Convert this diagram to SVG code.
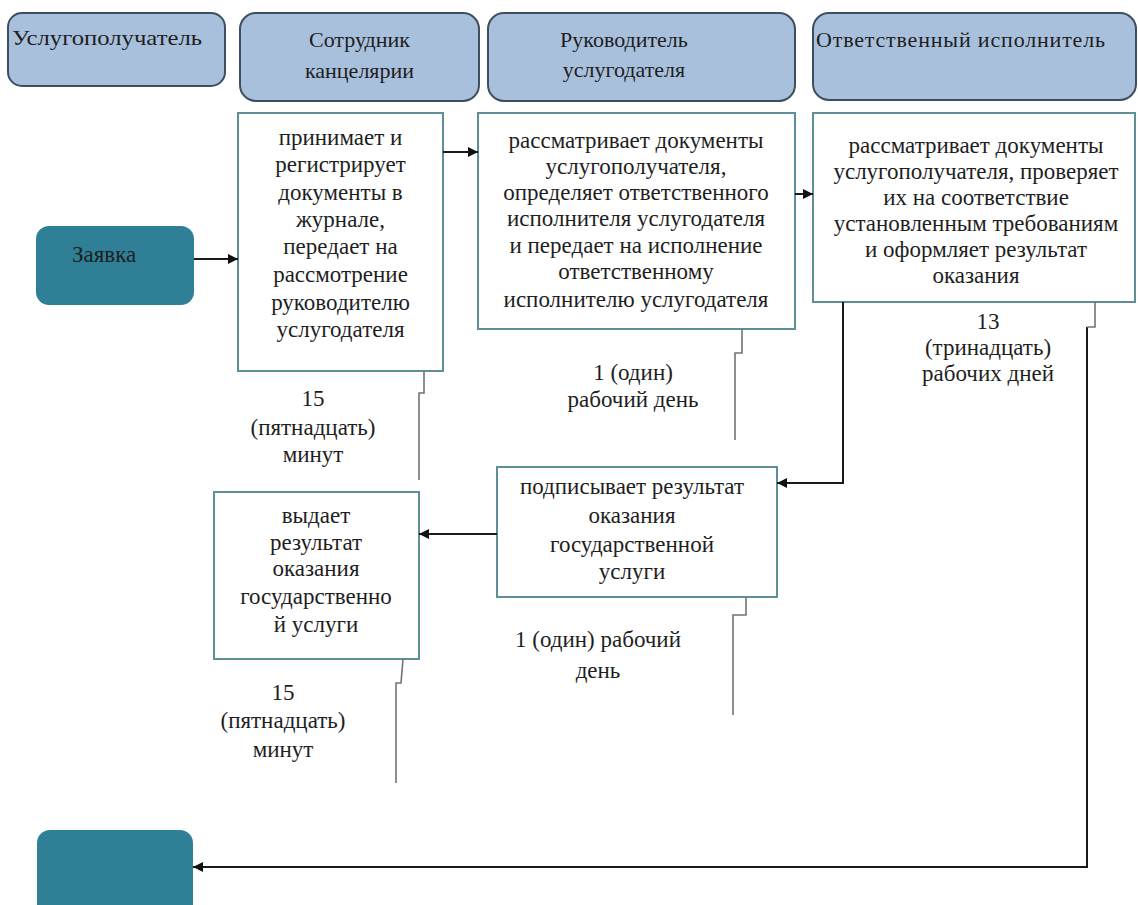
<svg xmlns="http://www.w3.org/2000/svg" width="1138" height="905" viewBox="0 0 1138 905" style="font-family:'Liberation Serif','Times New Roman',serif">
<defs>
<marker id="arr" viewBox="0 0 10 10" refX="10" refY="5" markerWidth="12" markerHeight="10" markerUnits="userSpaceOnUse" orient="auto">
<path d="M0,0 L10,5 L0,10 z" fill="#111"/>
</marker>
<style>
.hdr{fill:#a9c0dd;stroke:#3d4e60;stroke-width:2}
.term{fill:#2f7f97;stroke:none}
.box{fill:#fff;stroke:#5e8f99;stroke-width:2}
.t{font-size:23px;fill:#1e1e1e}
.h{font-size:22px;fill:#1e1e1e}
.c{text-anchor:middle}
.conn{fill:none;stroke:#1a1a1a;stroke-width:2}
.tick{fill:none;stroke:#6f747a;stroke-width:1.6}
</style>
</defs>
<rect width="1138" height="905" fill="#fff"/>

<g id="lane-uslugopoluchatel">
<rect class="hdr" x="8" y="13" width="217" height="73" rx="14"/>
<text class="h" font-family="Liberation Serif" x="12" y="45" textLength="190" lengthAdjust="spacingAndGlyphs">Услугополучатель</text>
</g>
<g id="lane-sotrudnik">
<rect class="hdr" x="240" y="13" width="239" height="88" rx="16"/>
<text class="h c" font-family="Liberation Serif" x="359.5" y="47">Сотрудник</text>
<text class="h c" font-family="Liberation Serif" x="359.5" y="78">канцелярии</text>
</g>
<g id="lane-rukovoditel">
<rect class="hdr" x="488" y="13" width="307" height="88" rx="16"/>
<text class="h c" font-family="Liberation Serif" x="624" y="47">Руководитель</text>
<text class="h c" font-family="Liberation Serif" x="624" y="77">услугодателя</text>
</g>
<g id="lane-otvetstvenny">
<rect class="hdr" x="813" y="13" width="323" height="87" rx="16"/>
<text class="h" font-family="Liberation Serif" x="816" y="47" textLength="289" lengthAdjust="spacing">Ответственный  исполнитель</text>
</g>

<g id="start">
<rect class="term" x="36" y="226" width="158" height="79" rx="13"/>
<text class="t" font-family="Liberation Serif" x="72" y="262" fill="#1c2a38">Заявка</text>
</g>
<g id="end">
<rect class="term" x="37" y="830" width="156" height="90" rx="13"/>
</g>

<g id="step1">
<rect class="box" x="238" y="113" width="205" height="258"/>
<text class="t c" font-family="Liberation Serif" x="340.5" y="145">принимает  и</text>
<text class="t c" font-family="Liberation Serif" x="340.5" y="172">регистрирует</text>
<text class="t c" font-family="Liberation Serif" x="340.5" y="200">документы в</text>
<text class="t c" font-family="Liberation Serif" x="340.5" y="227">журнале,</text>
<text class="t c" font-family="Liberation Serif" x="340.5" y="254">передает  на</text>
<text class="t c" font-family="Liberation Serif" x="340.5" y="282">рассмотрение</text>
<text class="t c" font-family="Liberation Serif" x="340.5" y="310">руководителю</text>
<text class="t c" font-family="Liberation Serif" x="340.5" y="337">услугодателя</text>
</g>
<g id="step2">
<rect class="box" x="478" y="113" width="317" height="216"/>
<text class="t c" font-family="Liberation Serif" x="636" y="148">рассматривает  документы</text>
<text class="t c" font-family="Liberation Serif" x="636" y="174">услугополучателя,</text>
<text class="t c" font-family="Liberation Serif" x="636" y="200">определяет  ответственного</text>
<text class="t c" font-family="Liberation Serif" x="636" y="226">исполнителя  услугодателя</text>
<text class="t c" font-family="Liberation Serif" x="636" y="253">и передает  на исполнение</text>
<text class="t c" font-family="Liberation Serif" x="636" y="279">ответственному</text>
<text class="t c" font-family="Liberation Serif" x="636" y="307">исполнителю  услугодателя</text>
</g>
<g id="step3">
<rect class="box" x="813" y="113" width="322" height="189"/>
<text class="t c" font-family="Liberation Serif" x="976" y="153">рассматривает  документы</text>
<text class="t c" font-family="Liberation Serif" x="976" y="179">услугополучателя, проверяет</text>
<text class="t c" font-family="Liberation Serif" x="976" y="205">их на соответствие</text>
<text class="t c" font-family="Liberation Serif" x="976" y="231">установленным  требованиям</text>
<text class="t c" font-family="Liberation Serif" x="976" y="257">и оформляет результат</text>
<text class="t c" font-family="Liberation Serif" x="976" y="283">оказания</text>
</g>
<g id="step4">
<rect class="box" x="497" y="467" width="280" height="130"/>
<text class="t c" font-family="Liberation Serif" x="632" y="494">подписывает  результат</text>
<text class="t c" font-family="Liberation Serif" x="632" y="523">оказания</text>
<text class="t c" font-family="Liberation Serif" x="632" y="552">государственной</text>
<text class="t c" font-family="Liberation Serif" x="632" y="579">услуги</text>
</g>
<g id="step5">
<rect class="box" x="214" y="492" width="205" height="167"/>
<text class="t c" font-family="Liberation Serif" x="316" y="523">выдает</text>
<text class="t c" font-family="Liberation Serif" x="316" y="550">результат</text>
<text class="t c" font-family="Liberation Serif" x="316" y="576">оказания</text>
<text class="t c" font-family="Liberation Serif" x="316" y="604">государственно</text>
<text class="t c" font-family="Liberation Serif" x="316" y="632">й услуги</text>
</g>

<g id="time-labels">
<text class="t c" font-family="Liberation Serif" x="313" y="406">15</text>
<text class="t c" font-family="Liberation Serif" x="313" y="435">(пятнадцать)</text>
<text class="t c" font-family="Liberation Serif" x="313" y="462">минут</text>
<text class="t c" font-family="Liberation Serif" x="633" y="380">1 (один)</text>
<text class="t c" font-family="Liberation Serif" x="633" y="407">рабочий  день</text>
<text class="t c" font-family="Liberation Serif" x="988" y="329">13</text>
<text class="t c" font-family="Liberation Serif" x="988" y="355">(тринадцать)</text>
<text class="t c" font-family="Liberation Serif" x="988" y="381">рабочих  дней</text>
<text class="t c" font-family="Liberation Serif" x="598" y="647">1 (один) рабочий</text>
<text class="t c" font-family="Liberation Serif" x="598" y="678">день</text>
<text class="t c" font-family="Liberation Serif" x="283" y="700">15</text>
<text class="t c" font-family="Liberation Serif" x="283" y="728">(пятнадцать)</text>
<text class="t c" font-family="Liberation Serif" x="283" y="757">минут</text>
</g>

<g id="connectors">
<path class="conn" d="M194,259 H238" marker-end="url(#arr)"/>
<path class="conn" d="M443,152 H478" marker-end="url(#arr)"/>
<path class="conn" d="M795,194 H813" marker-end="url(#arr)"/>
<path class="conn" d="M843,302 V483 H777" marker-end="url(#arr)"/>
<path class="conn" d="M497,534 H419" marker-end="url(#arr)"/>
<path class="conn" d="M1087,327 V867 H193" marker-end="url(#arr)"/>
<path class="tick" d="M424,371 V393 H419 V480"/>
<path class="tick" d="M742,329 V353 H735 V440"/>
<path class="tick" d="M1095,302 V327 H1087"/>
<path class="tick" d="M403,659 L401,683 H396 V783"/>
<path class="tick" d="M746,597 V615 H733 V715"/>
</g>
</svg>
